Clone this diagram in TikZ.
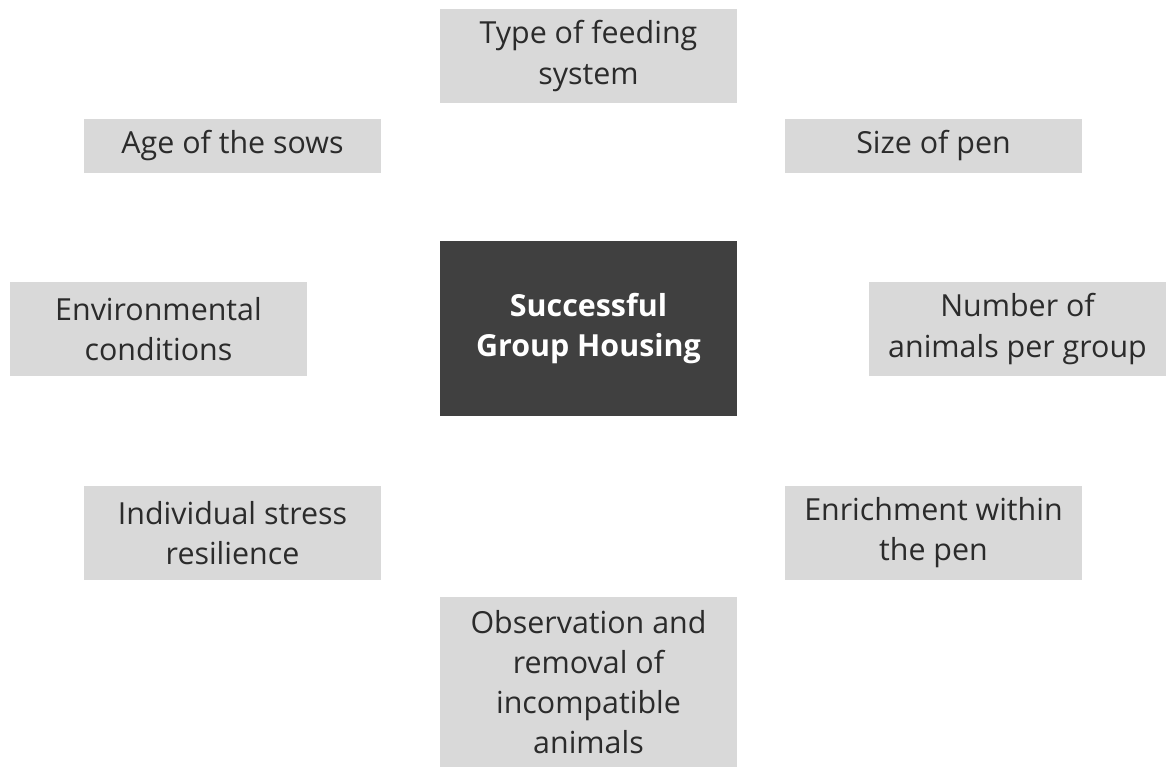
\documentclass[tikz,border=0pt]{standalone}
\usepackage{fontspec}
\setmainfont{Open Sans}
\usetikzlibrary{positioning}
\definecolor{boxgrey}{HTML}{D9D9D9}
\definecolor{hubgrey}{HTML}{404040}
\definecolor{inkgrey}{HTML}{2B2B2B}

\begin{document}
\begin{tikzpicture}[x=0.02cm, y=-0.02cm,
	factor/.style={rectangle, fill=boxgrey, text=inkgrey, align=center,
		minimum width=5.94cm, inner sep=0pt,
		font=\fontsize{17.3}{22.8}\selectfont},
	hub/.style={factor, fill=hubgrey, text=white, font=\fontsize{17.3}{22.8}\selectfont\bfseries}]
			%%%%% START %%%%%
			\useasboundingbox (0, 0) rectangle (1171, 769);
			
			% centre box
			\node[hub, minimum height=3.5cm] (hub) at (588.5, 328.5) {Successful\\Group Housing};
			
			% top row
			\node[factor, minimum height=1.88cm] (feed) at (588.5, 56) {Type of feeding\\system};
			\node[factor, minimum height=1.08cm] (age) at (232.5, 146) {Age of the sows};
			\node[factor, minimum height=1.08cm] (pen) at (933.5, 146) {Size of pen};
			
			% middle row
			\node[factor, minimum height=1.88cm] (env) at (158.5, 329) {Environmental\\conditions};
			\node[factor, minimum height=1.88cm] (num) at (1017.5, 329) {Number of\\animals per group};
			
			% bottom row
			\node[factor, minimum height=1.88cm] (stress) at (232.5, 533) {Individual stress\\resilience};
			\node[factor, minimum height=1.88cm] (enrich) at (933.5, 533) {Enrichment within\\the pen};
			\node[factor, minimum height=3.4cm] (obs) at (588.5, 682) {Observation and\\removal of\\incompatible\\animals};
			%%%%% END %%%%%
\end{tikzpicture}
\end{document}
